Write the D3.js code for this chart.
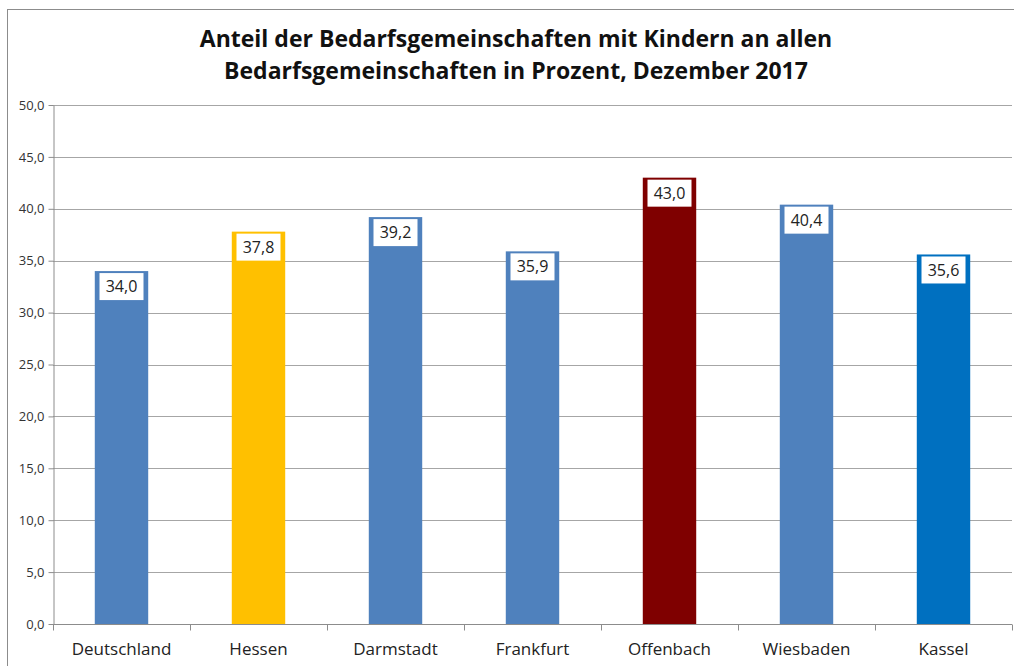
<!DOCTYPE html>
<html>
<head>
<meta charset="utf-8">
<script src="https://cdn.jsdelivr.net/npm/d3@7"></script>
<style>
body { margin: 0; background: #fff; }
text { font-family: "Open Sans", "Noto Sans", sans-serif; }
</style>
</head>
<body>
<script>
// chart data
var categories = ["Deutschland", "Hessen", "Darmstadt", "Frankfurt", "Offenbach", "Wiesbaden", "Kassel"];
var values = [34.0, 37.8, 39.2, 35.9, 43.0, 40.4, 35.6];
var barColors = ["#4f81bd", "#ffc000", "#4f81bd", "#4f81bd", "#7f0000", "#4f81bd", "#0070c0"];
var yTicks = [0, 5, 10, 15, 20, 25, 30, 35, 40, 45, 50];
var titleLines = ["Anteil der Bedarfsgemeinschaften mit Kindern an allen",
                  "Bedarfsgemeinschaften in Prozent, Dezember 2017"];

var width = 1014,
    height = 666;

var svg = d3.select("body")
    .append("svg")
    .attr("width", width)
    .attr("height", height);

// outer chart border
svg.append("rect")
    .attr("x", 7.5).attr("y", 9.5)
    .attr("width", width + 10).attr("height", height + 10)
    .attr("fill", "none")
    .attr("stroke", "#8c8c8c");

var fmt = function(v) { return d3.format(".1f")(v).replace(".", ","); };

var x = d3.scaleBand()
    .domain(categories)
    .range([53, 1012])
    .paddingInner(0.61)
    .paddingOuter(0.305);

var y = d3.scaleLinear()
    .domain([0, 50])
    .range([624, 105]);

// title
svg.selectAll(".title")
    .data(titleLines)
    .enter()
    .append("text")
    .attr("class", "title")
    .attr("x", 516)
    .attr("y", function(d, i) { return 47 + i * 32; })
    .attr("text-anchor", "middle")
    .attr("font-size", 23)
    .attr("font-weight", "bold")
    .attr("fill", "#111")
    .text(function(d) { return d; });

// gridlines
svg.selectAll(".grid")
    .data(yTicks)
    .enter()
    .append("line")
    .attr("x1", 53).attr("x2", 1012)
    .attr("y1", function(d) { return Math.round(y(d)) + 0.5; })
    .attr("y2", function(d) { return Math.round(y(d)) + 0.5; })
    .attr("stroke", "#a6a6a6");

// y axis
var yAxis = svg.append("g")
    .attr("transform", "translate(53.5,0)")
    .call(d3.axisLeft(y).tickValues(yTicks).tickFormat(fmt).tickSize(5).tickSizeOuter(0));
yAxis.select(".domain").attr("stroke", "#8c8c8c");
yAxis.selectAll(".tick line").attr("stroke", "#8c8c8c");
yAxis.selectAll(".tick text")
    .attr("font-size", 13)
    .attr("fill", "#333")
    .attr("font-family", "Open Sans, sans-serif")
    .attr("x", -9);

// bars
svg.selectAll(".bar")
    .data(values)
    .enter()
    .append("rect")
    .attr("class", "bar")
    .attr("x", function(d, i) { return x(categories[i]); })
    .attr("y", function(d) { return y(d); })
    .attr("width", x.bandwidth())
    .attr("height", function(d) { return y(0) - y(d); })
    .attr("fill", function(d, i) { return barColors[i]; });

// x axis
var xAxis = svg.append("g")
    .attr("transform", "translate(0,624.5)");
xAxis.append("line")
    .attr("x1", 53).attr("x2", 1012)
    .attr("stroke", "#8c8c8c");
var step = x.step();
xAxis.selectAll(".xtick")
    .data(d3.range(categories.length + 1))
    .enter()
    .append("line")
    .attr("x1", function(i) { return Math.round(53 + i * step) + 0.5; })
    .attr("x2", function(i) { return Math.round(53 + i * step) + 0.5; })
    .attr("y1", 0).attr("y2", 6)
    .attr("stroke", "#8c8c8c");
xAxis.selectAll(".xlabel")
    .data(categories)
    .enter()
    .append("text")
    .attr("x", function(d) { return x(d) + x.bandwidth() / 2; })
    .attr("y", 30)
    .attr("text-anchor", "middle")
    .attr("font-size", 17)
    .attr("fill", "#222")
    .text(function(d) { return d; });

// value labels in white boxes
var labels = svg.selectAll(".vlabel")
    .data(values)
    .enter()
    .append("g")
    .attr("transform", function(d, i) {
        return "translate(" + (x(categories[i]) + x.bandwidth() / 2) + "," + (y(d) + 15.5) + ")";
    });
labels.append("rect")
    .attr("x", -22).attr("y", -13.5)
    .attr("width", 44).attr("height", 27)
    .attr("fill", "#fff");
labels.append("text")
    .attr("text-anchor", "middle")
    .attr("dy", "0.35em")
    .attr("font-size", 16)
    .attr("fill", "#222")
    .text(fmt);
</script>
</body>
</html>
